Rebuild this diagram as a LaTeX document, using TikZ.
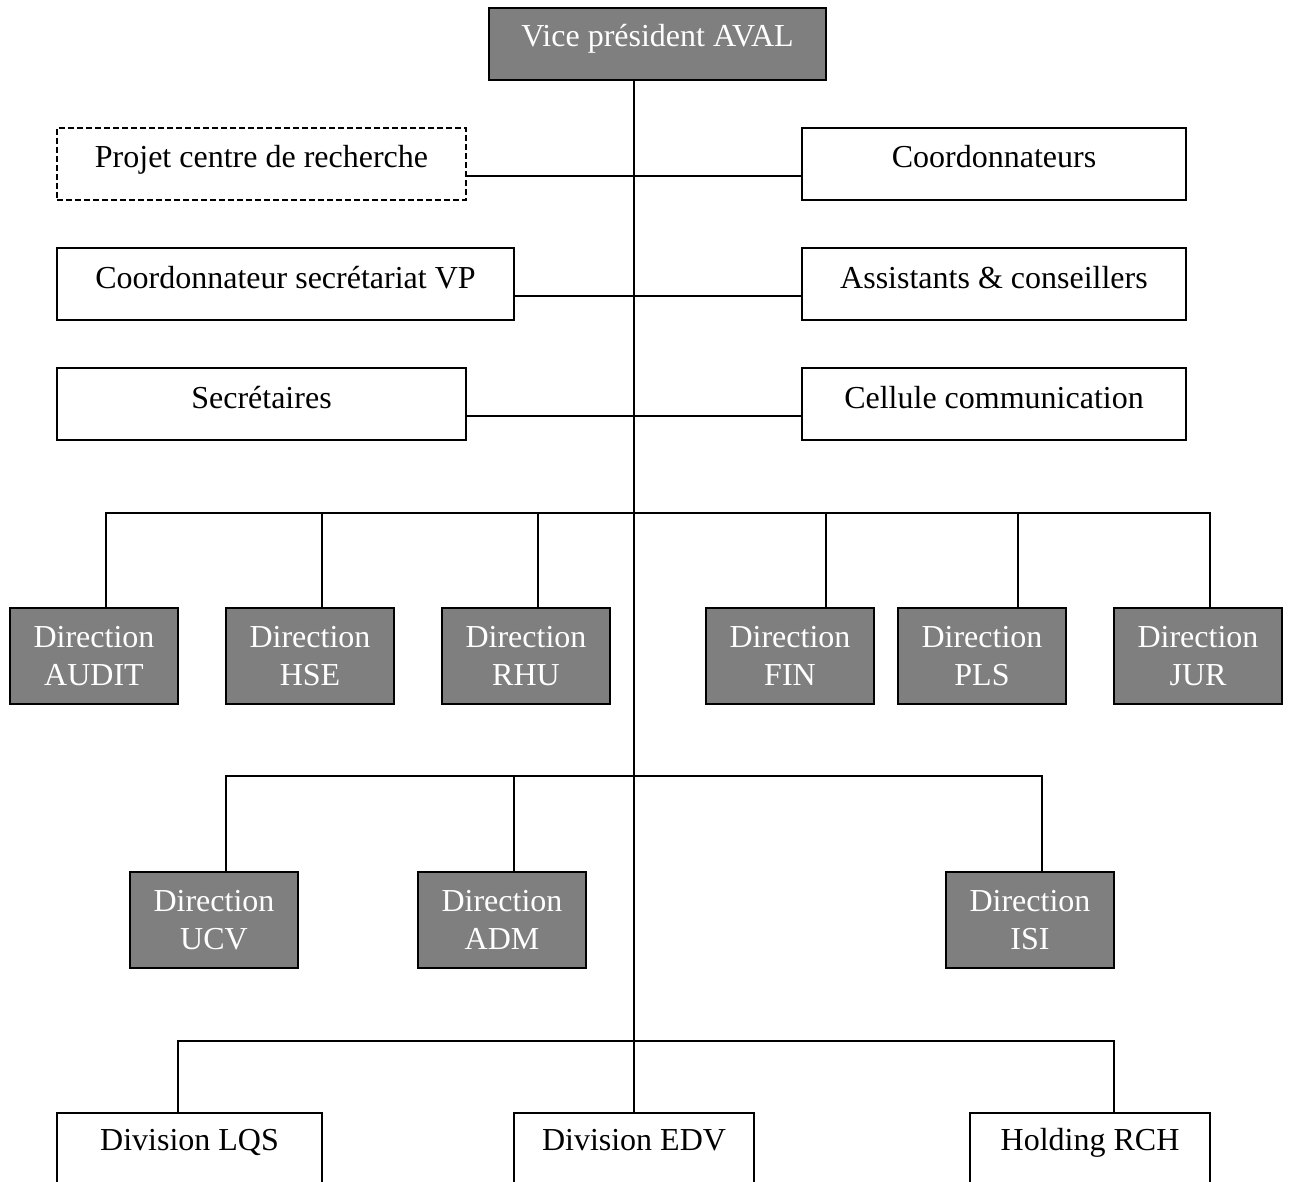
\documentclass[tikz,border=0pt]{standalone}
\usepackage{fontspec}
\setmainfont{Liberation Serif}
\definecolor{boxgray}{HTML}{7F7F7F}
\tikzset{
  base/.style={draw=black, line width=2pt, inner sep=0pt, outer sep=0pt, rectangle,
    font=\fontsize{32}{37.5}\selectfont, align=center},
  whitebox/.style={base, fill=white, minimum height=72pt, text height=24pt, text depth=16pt},
  graybox/.style={base, fill=boxgray, text=white, minimum width=168pt, minimum height=96pt},
  dashbox/.style={whitebox, dash pattern=on 6pt off 3pt},
  conn/.style={draw=black, line width=1.8pt},
}
\begin{document}
\begin{tikzpicture}[x=1pt, y=-1pt]
\clip (0,0) rectangle (1290,1182);
\fill[white] (0,0) rectangle (1290,1182);

% top
\node[whitebox, fill=boxgray, text=white, minimum width=337pt, text height=23pt, text depth=17pt] (vp) at (657.5,44) {Vice président AVAL};

% side boxes
\node[dashbox, minimum width=409pt] (projet) at (261.5,164) {Projet centre de recherche};
\node[whitebox, minimum width=384pt] (coord) at (994,164) {Coordonnateurs};
\node[whitebox, minimum width=457pt] (csvp) at (285.5,284) {Coordonnateur secrétariat VP};
\node[whitebox, minimum width=384pt] (assist) at (994,284) {Assistants \& conseillers};
\node[whitebox, minimum width=409pt] (secr) at (261.5,404) {Secrétaires};
\node[whitebox, minimum width=384pt] (cell) at (994,404) {Cellule communication};

% directions row 1
\node[graybox] (audit) at (94,656) {Direction\\AUDIT};
\node[graybox] (hse) at (310,656) {Direction\\HSE};
\node[graybox] (rhu) at (526,656) {Direction\\RHU};
\node[graybox] (fin) at (790,656) {Direction\\FIN};
\node[graybox] (pls) at (982,656) {Direction\\PLS};
\node[graybox] (jur) at (1198,656) {Direction\\JUR};

% directions row 2
\node[graybox] (ucv) at (214,920) {Direction\\UCV};
\node[graybox] (adm) at (502,920) {Direction\\ADM};
\node[graybox] (isi) at (1030,920) {Direction\\ISI};

% divisions
\node[whitebox, minimum width=265pt, text height=21pt, text depth=19pt] (lqs) at (189.5,1149) {Division LQS};
\node[whitebox, minimum width=240pt, text height=21pt, text depth=19pt] (edv) at (634,1149) {Division EDV};
\node[whitebox, minimum width=240pt, text height=21pt, text depth=19pt] (rch) at (1090,1149) {Holding RCH};

% trunk
\draw[conn] (vp.south -| edv.north) -- (edv.north);

% side connectors
\draw[conn] ([yshift=-12pt]projet.east) -- ([yshift=-12pt]coord.west);
\draw[conn] ([yshift=-12pt]csvp.east) -- ([yshift=-12pt]assist.west);
\draw[conn] ([yshift=-12pt]secr.east) -- ([yshift=-12pt]cell.west);

% bus 1
\coordinate (bus1) at (634,513);
\draw[conn] ([xshift=12pt]audit.north) |- (bus1) -| ([xshift=12pt]jur.north);
\draw[conn] ([xshift=12pt]hse.north) -- ([xshift=12pt]hse.north |- bus1);
\draw[conn] ([xshift=12pt]rhu.north) -- ([xshift=12pt]rhu.north |- bus1);
\draw[conn] ([xshift=36pt]fin.north) -- ([xshift=36pt]fin.north |- bus1);
\draw[conn] ([xshift=36pt]pls.north) -- ([xshift=36pt]pls.north |- bus1);

% bus 2
\coordinate (bus2) at (634,776);
\draw[conn] ([xshift=12pt]ucv.north) |- (bus2) -| ([xshift=12pt]isi.north);
\draw[conn] ([xshift=12pt]adm.north) -- ([xshift=12pt]adm.north |- bus2);

% bus 3
\coordinate (bus3) at (634,1041);
\draw[conn] ([xshift=-11.5pt]lqs.north) |- (bus3) -| ([xshift=24pt]rch.north);
\end{tikzpicture}
\end{document}
